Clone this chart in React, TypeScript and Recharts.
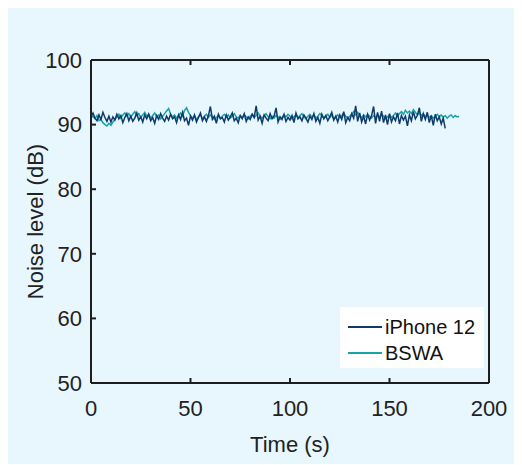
import React from 'react';
import { LineChart, Line, XAxis, YAxis, Legend } from 'recharts';

const iphone12: number[] = [
  91.2, 91.8, 91.0, 90.6, 91.5, 90.8, 91.9, 91.1, 90.5, 91.3,
  90.4, 91.2, 90.7, 91.6, 90.9, 91.4, 90.3, 91.1, 91.7, 90.6,
  91.3, 90.5, 91.0, 91.8, 90.7, 91.2, 90.4, 91.5, 90.9, 91.6,
  90.6, 91.1, 90.2, 91.4, 90.8, 91.7, 91.0, 90.5, 91.3, 90.7,
  91.6, 90.9, 91.2, 90.3, 91.5, 90.8, 91.9, 90.6, 91.0, 89.9,
  91.3, 90.7, 91.5, 90.4, 91.1, 91.8, 90.6, 91.2, 90.5, 91.4,
  92.8, 90.8, 91.3, 90.2, 91.6, 90.9, 91.1, 90.4, 91.5, 90.7,
  91.2, 91.8, 90.6, 91.0, 90.3, 91.4, 90.9, 91.7, 90.5, 91.2,
  90.8, 91.6, 91.1, 92.9, 90.7, 91.3, 90.2, 91.5, 91.0, 90.6,
  91.7, 90.9, 91.3, 92.6, 90.4, 91.2, 90.8, 91.6, 90.5, 91.1,
  90.7, 91.4, 90.3, 91.8, 90.9, 91.2, 90.6, 91.5, 91.0, 90.4,
  91.3, 90.8, 91.7, 90.5, 91.1, 90.2, 91.6, 90.9, 91.4, 90.6,
  91.2, 91.9, 90.7, 91.3, 90.4, 91.5, 90.8, 92.0, 90.3, 91.1,
  90.6, 91.7, 91.0, 92.9, 90.5, 91.8, 90.4, 91.3, 90.1, 91.6,
  90.7, 91.4, 92.8, 90.2, 91.9, 90.5, 92.1, 90.3, 91.5, 90.0,
  91.7, 90.4, 91.2, 90.6, 91.8, 90.1, 91.4, 90.7, 91.3, 89.8,
  91.5, 90.6, 92.0, 90.9, 91.4, 92.6, 90.5, 91.7, 90.8, 91.9,
  90.3, 91.4, 89.9, 91.6, 90.6, 91.2, 90.1, 91.0, 89.4,
];

const bswa: number[] = [
  91.0, 91.3, 90.9, 91.4, 90.6, 90.8, 90.3, 90.0, 89.8, 90.2,
  89.9, 90.4, 90.8, 91.2, 91.6, 91.0, 91.5, 91.8, 91.3, 91.7,
  91.2, 91.6, 92.0, 91.4, 91.7, 91.1, 91.5, 91.9, 91.3, 91.6,
  91.0, 91.4, 91.8, 91.2, 91.5, 90.9, 91.3, 91.7, 92.1, 92.5,
  91.6, 91.2, 91.5, 91.0, 91.4, 91.8, 91.3, 92.2, 92.6, 91.9,
  91.4, 91.0, 91.3, 90.8, 91.2, 91.5, 90.9, 91.3, 91.6, 91.1,
  91.5, 91.2, 90.8, 91.1, 91.4, 91.0, 91.3, 91.6, 91.2, 91.5,
  91.0, 91.3, 91.7, 91.2, 91.0, 91.4, 91.1, 91.5, 91.2, 90.9,
  91.3, 91.6, 91.1, 91.4, 91.8, 91.3, 91.0, 91.4, 91.7, 91.2,
  90.9, 91.3, 91.0, 91.4, 91.2, 90.8, 91.1, 91.5, 91.2, 91.6,
  91.3, 90.9, 91.2, 91.5, 91.1, 91.4, 91.7, 91.2, 90.9, 91.3,
  91.6, 91.2, 91.5, 91.0, 91.3, 91.7, 91.4, 91.0, 91.3, 91.6,
  91.1, 91.4, 90.9, 91.2, 91.5, 91.1, 91.4, 91.8, 91.3, 91.0,
  91.3, 91.6, 92.0, 91.5, 91.9, 91.4, 91.1, 91.5, 91.2, 91.6,
  91.3, 91.0, 91.4, 91.1, 91.5, 91.2, 91.6, 91.3, 90.9, 91.2,
  91.5, 91.1, 91.4, 91.8, 91.3, 91.7, 92.0, 91.6, 92.2, 91.8,
  92.1, 91.7, 92.3, 91.9, 91.5, 91.8, 91.4, 91.7, 91.2, 91.5,
  91.1, 91.4, 91.0, 91.3, 91.6, 91.2, 91.5, 91.1, 91.4, 91.0,
  91.3, 91.5, 91.1, 91.4, 91.2, 91.3,
];

const xTicks = [0, 50, 100, 150, 200];
const yTicks = [50, 60, 70, 80, 90, 100];

const data = bswa.map((v, i) => ({
  t: i,
  iphone: i < iphone12.length ? iphone12[i] : undefined,
  bswa: v,
}));

const FONT = '"Liberation Sans", Arial, Helvetica, sans-serif';
const AXIS = '#1e1e1e';
const C_IPHONE = '#0f3a6b';
const C_BSWA = '#18a3a6';

const NoTick = () => <g />;

const LegendBox = () => (
  <div
    style={{
      background: '#ffffff',
      width: 144,
      height: 61,
      position: 'relative',
      fontFamily: FONT,
      fontSize: 20,
      color: '#111',
    }}
  >
    {[
      { name: 'iPhone 12', color: C_IPHONE, cy: 20 },
      { name: 'BSWA', color: C_BSWA, cy: 46 },
    ].map((r) => (
      <div key={r.name}>
        <div
          style={{
            position: 'absolute',
            left: 8,
            top: r.cy - 0.75,
            width: 34,
            height: 1.5,
            background: r.color,
          }}
        />
        <div
          style={{
            position: 'absolute',
            left: 45,
            top: r.cy - 12,
            lineHeight: '24px',
            whiteSpace: 'nowrap',
          }}
        >
          {r.name}
        </div>
      </div>
    ))}
  </div>
);

export default function App() {
  return (
    <div style={{ width: 514, height: 456, background: '#e8f6fd', fontFamily: FONT }}>
      <LineChart
        width={514}
        height={456}
        data={data}
        margin={{ top: 51, right: 32, bottom: 0, left: 0 }}
      >
        <XAxis
          dataKey="t"
          type="number"
          domain={[0, 200]}
          ticks={xTicks}
          height={81}
          tickSize={-5}
          tickMargin={22}
          axisLine={{ stroke: AXIS, strokeWidth: 2 }}
          tickLine={{ stroke: AXIS, strokeWidth: 2 }}
          tick={{ fill: '#222', fontSize: 22, fontFamily: FONT }}
          label={{
            value: 'Time (s)',
            position: 'insideBottom',
            offset: 12,
            fill: '#222',
            fontSize: 22,
            fontFamily: FONT,
          }}
        />
        <XAxis
          xAxisId="top"
          orientation="top"
          dataKey="t"
          type="number"
          domain={[0, 200]}
          ticks={xTicks}
          height={1}
          tickSize={-5}
          tick={<NoTick />}
          axisLine={{ stroke: AXIS, strokeWidth: 2 }}
          tickLine={{ stroke: AXIS, strokeWidth: 2 }}
        />
        <YAxis
          type="number"
          domain={[50, 100]}
          ticks={yTicks}
          width={83}
          tickSize={-5}
          tickMargin={14}
          axisLine={{ stroke: AXIS, strokeWidth: 2 }}
          tickLine={{ stroke: AXIS, strokeWidth: 2 }}
          tick={{ fill: '#222', fontSize: 22, fontFamily: FONT }}
          label={{
            value: 'Noise level (dB)',
            angle: -90,
            position: 'insideLeft',
            offset: 27,
            fill: '#222',
            fontSize: 22,
            fontFamily: FONT,
            style: { textAnchor: 'middle' },
          }}
        />
        <YAxis
          yAxisId="right"
          orientation="right"
          type="number"
          domain={[50, 100]}
          ticks={yTicks}
          width={1}
          tickSize={-5}
          tick={<NoTick />}
          axisLine={{ stroke: AXIS, strokeWidth: 2 }}
          tickLine={{ stroke: AXIS, strokeWidth: 2 }}
        />
        <Line
          type="linear"
          dataKey="bswa"
          name="BSWA"
          stroke={C_BSWA}
          strokeWidth={1.5}
          dot={false}
          isAnimationActive={false}
        />
        <Line
          type="linear"
          dataKey="iphone"
          name="iPhone 12"
          stroke={C_IPHONE}
          strokeWidth={1.5}
          dot={false}
          isAnimationActive={false}
        />
        <Legend
          layout="horizontal"
          verticalAlign="middle"
          align="center"
          content={() => <LegendBox />}
          wrapperStyle={{ left: 332, top: 299, width: 144, height: 61 }}
        />
      </LineChart>
    </div>
  );
}
